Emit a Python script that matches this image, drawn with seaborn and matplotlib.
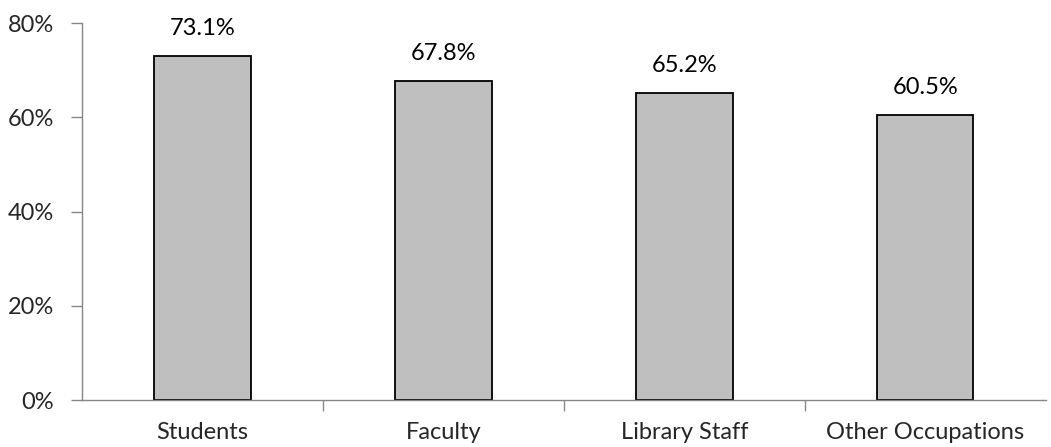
import matplotlib.pyplot as plt
import seaborn as sns
import numpy as np
from matplotlib.ticker import PercentFormatter, FixedLocator

# Data
categories = ['Students', 'Faculty', 'Library Staff', 'Other Occupations']
values = [73.1, 67.8, 65.2, 60.5]

sns.set_style('white')
plt.rcParams['font.family'] = ['Lato', 'DejaVu Sans']

fig = plt.figure(figsize=(10.51, 4.47), dpi=100)
ax = fig.add_axes([0.078, 0.105, 0.917, 0.8435])

sns.barplot(x=categories, y=values, color='#BFBFBF', edgecolor='black',
            linewidth=1.3, width=0.4, saturation=1, ax=ax)

# value labels
for i, v in enumerate(values):
    ax.text(i, v + 3.6, f'{v:.1f}%', ha='center', va='bottom', fontsize=17, color='black')

ax.set_ylim(0, 80)
ax.set_xlim(-0.5, len(categories) - 0.5)
ax.set_yticks([0, 20, 40, 60, 80])
ax.yaxis.set_major_formatter(PercentFormatter(decimals=0))

# tick marks between categories
ax.xaxis.set_minor_locator(FixedLocator(np.arange(0.5, len(categories) - 0.5, 1)))
ax.tick_params(axis='x', which='major', length=0, pad=16, labelsize=17)
ax.tick_params(axis='x', which='minor', length=8, width=1, color='#868686', direction='out')
ax.tick_params(axis='y', length=8, width=1, color='#868686', direction='out', pad=12, labelsize=17)
ax.xaxis.set_tick_params(bottom=True, which='both')
ax.yaxis.set_tick_params(left=True)

for side in ['top', 'right']:
    ax.spines[side].set_visible(False)
for side in ['left', 'bottom']:
    ax.spines[side].set_color('#868686')
    ax.spines[side].set_linewidth(1)

ax.set_xlabel('')
ax.set_ylabel('')

plt.savefig('out.png', dpi=100)
